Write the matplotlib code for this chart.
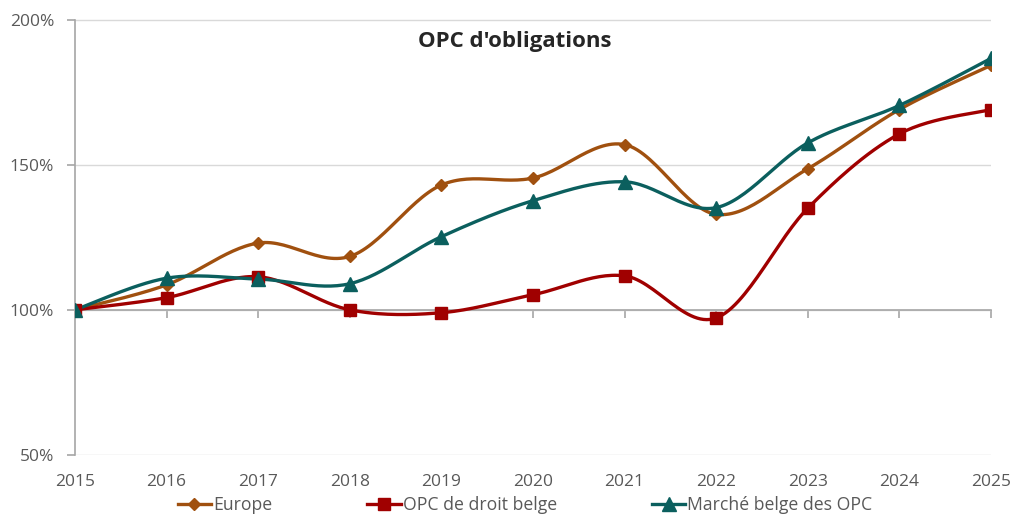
import numpy as np
import matplotlib
matplotlib.use("Agg")
import matplotlib.pyplot as plt
from matplotlib.ticker import FuncFormatter

plt.rcParams['font.family'] = ['Open Sans', 'DejaVu Sans']

years = [2015, 2016, 2017, 2018, 2019, 2020, 2021, 2022, 2023, 2024, 2025]
europe = [100.0, 108.6, 123.0, 118.4, 143.0, 145.4, 156.9, 132.9, 148.6, 169.0, 184.2]
opc_droit_belge = [100.0, 104.2, 111.4, 100.0, 99.0, 105.2, 111.7, 97.2, 135.0, 160.6, 169.0]
marche_belge = [100.0, 110.9, 110.6, 109.0, 125.2, 137.6, 144.1, 135.2, 157.5, 170.4, 186.6]
series_names = ["Europe", "OPC de droit belge", "Marché belge des OPC"]
y_ticks = [50, 100, 150, 200]
title = "OPC d'obligations"

colors = ["#A0500F", "#A00000", "#0B5F5E"]
markers = ["D", "s", "^"]
msizes = [6.5, 9, 9.5]


def excel_smooth(x, y, n=30, t=1/6):
    x = np.asarray(x, float); y = np.asarray(y, float)
    xs, ys = [], []
    m = len(x)
    for i in range(m - 1):
        p0 = np.array([x[max(i - 1, 0)], y[max(i - 1, 0)]])
        p1 = np.array([x[i], y[i]])
        p2 = np.array([x[i + 1], y[i + 1]])
        p3 = np.array([x[min(i + 2, m - 1)], y[min(i + 2, m - 1)]])
        c1 = p1 + (p2 - p0) * t
        c2 = p2 - (p3 - p1) * t
        s = np.linspace(0, 1, n)[:, None]
        pts = ((1 - s) ** 3) * p1 + 3 * ((1 - s) ** 2) * s * c1 + 3 * (1 - s) * s ** 2 * c2 + s ** 3 * p2
        if i > 0:
            pts = pts[1:]
        xs.extend(pts[:, 0]); ys.extend(pts[:, 1])
    return np.array(xs), np.array(ys)


fig = plt.figure(figsize=(10.12, 5.15), dpi=100)
ax = fig.add_axes([75 / 1012, (515 - 455) / 515, (991 - 75) / 1012, (455 - 19.5) / 515])

handles = []
for vals, name, c, mk, ms in zip([europe, opc_droit_belge, marche_belge], series_names, colors, markers, msizes):
    sx, sy = excel_smooth(years, vals)
    ax.plot(sx, sy, color=c, lw=2.4, zorder=3, solid_capstyle='round')
    ax.plot(years, vals, linestyle='none', marker=mk, markersize=ms, color=c, zorder=4)
    h, = ax.plot([], [], color=c, lw=2.4, marker=mk, markersize=ms)
    handles.append(h)

ax.set_xlim(2015, 2025)
ax.set_ylim(50, 200)
ax.set_yticks(y_ticks)
ax.yaxis.set_major_formatter(FuncFormatter(lambda v, p: f"{v:.0f}%"))
ax.grid(axis='y', color='#D9D9D9', lw=1, zorder=0)

for s in ['top', 'right']:
    ax.spines[s].set_visible(False)
ax.spines['left'].set_color('#A6A6A6')
ax.spines['bottom'].set_color('#A6A6A6')
ax.spines['bottom'].set_position(('data', 100))
ax.spines['bottom'].set_zorder(2)
ax.spines['left'].set_linewidth(1.2)
ax.spines['bottom'].set_linewidth(1.2)

ax.set_xticks(years)
ax.tick_params(axis='x', direction='out', length=6, color='#A6A6A6', labelbottom=False, width=1.2)
ax.tick_params(axis='y', direction='out', length=6, color='#A6A6A6', labelcolor='#595959', labelsize=12.5, width=1.2, pad=9)

sec = ax.secondary_xaxis('bottom')
sec.set_xticks(years)
sec.set_xticklabels([str(y) for y in years])
sec.tick_params(length=0, labelcolor='#595959', labelsize=12.5, pad=14)
sec.spines['bottom'].set_visible(False)

ax.text((515 - 75) / 916, 0.95, title, transform=ax.transAxes, ha='center', va='center',
        fontsize=16, fontweight='bold', color='#262626')

fig.legend(handles, series_names, loc='center', bbox_to_anchor=(525 / 1012, 1 - 505 / 515),
           ncol=3, frameon=False, fontsize=12.7, handlelength=1.9, columnspacing=5.4,
           handletextpad=0.1, labelcolor='#595959')

fig.savefig("out.png", dpi=100)
